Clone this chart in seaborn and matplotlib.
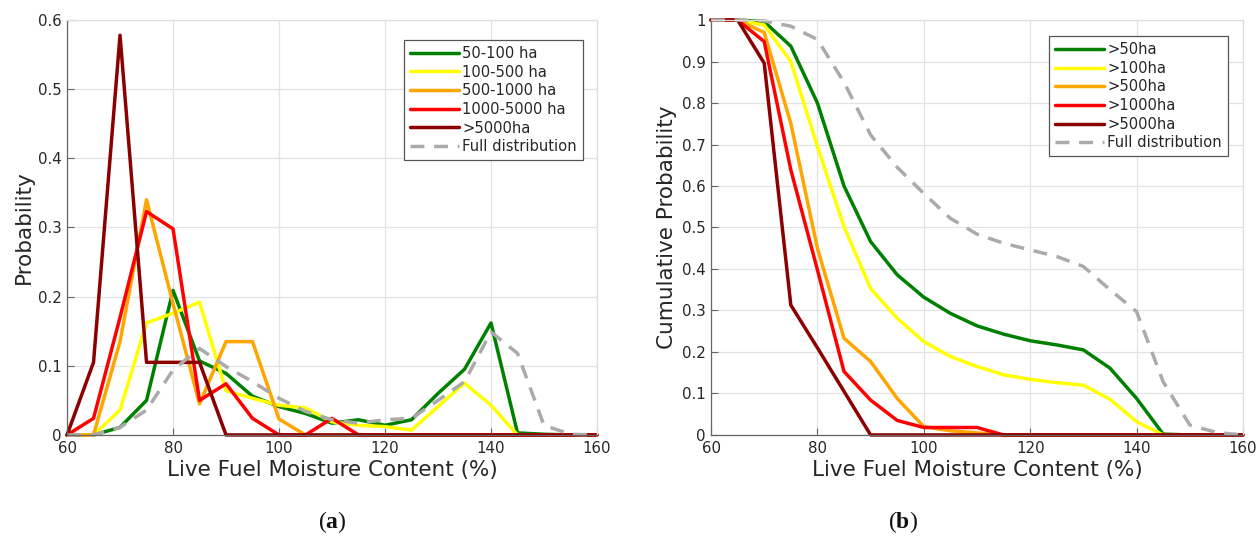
import numpy as np
import pandas as pd
import matplotlib
matplotlib.use("Agg")
import matplotlib.pyplot as plt
import seaborn as sns
from matplotlib.ticker import FuncFormatter

# Live fuel moisture content bins (%)
lfmc = [60, 65, 70, 75, 80, 85, 90, 95, 100, 105, 110, 115, 120, 125, 130,
        135, 140, 145, 150, 155, 160]

# (a) probability by burned-area class
p_50_100 = [0, 0, 0.011, 0.05, 0.209, 0.107, 0.089, 0.056, 0.041, 0.031, 0.017,
            0.022, 0.014, 0.022, 0.06, 0.095, 0.162, 0.003, 0.001, 0, 0]
p_100_500 = [0, 0, 0.036, 0.162, 0.176, 0.192, 0.064, 0.053, 0.043, 0.039, 0.019,
             0.014, 0.012, 0.007, 0.041, 0.075, 0.043, 0, 0, 0, 0]
p_500_1000 = [0, 0, 0.135, 0.34, 0.19, 0.045, 0.135, 0.135, 0.023, 0, 0,
              0, 0, 0, 0, 0, 0, 0, 0, 0, 0]
p_1000_5000 = [0, 0.024, 0.17, 0.323, 0.298, 0.05, 0.074, 0.024, 0, 0, 0.024,
               0, 0, 0, 0, 0, 0, 0, 0, 0, 0]
p_5000 = [0, 0.105, 0.578, 0.105, 0.105, 0.105, 0, 0, 0, 0, 0,
          0, 0, 0, 0, 0, 0, 0, 0, 0, 0]
p_full = [0, 0, 0.011, 0.036, 0.094, 0.125, 0.099, 0.077, 0.053, 0.034, 0.022,
          0.017, 0.022, 0.024, 0.05, 0.077, 0.149, 0.118, 0.014, 0.001, 0]

# (b) cumulative probability by minimum burned area
c_50 = [1, 1, 0.996, 0.937, 0.8, 0.6, 0.466, 0.386, 0.332, 0.293, 0.263,
        0.243, 0.227, 0.217, 0.205, 0.161, 0.088, 0.002, 0, 0, 0]
c_100 = [1, 1, 0.988, 0.9, 0.695, 0.502, 0.353, 0.281, 0.225, 0.189, 0.165,
         0.145, 0.134, 0.126, 0.12, 0.086, 0.032, 0, 0, 0, 0]
c_500 = [1, 1, 0.97, 0.751, 0.45, 0.233, 0.177, 0.088, 0.02, 0.01, 0.005,
         0, 0, 0, 0, 0, 0, 0, 0, 0, 0]
c_1000 = [1, 1, 0.948, 0.639, 0.398, 0.153, 0.084, 0.035, 0.018, 0.018, 0.018,
          0, 0, 0, 0, 0, 0, 0, 0, 0, 0]
c_5000 = [1, 1, 0.896, 0.313, 0.21, 0.105, 0, 0, 0, 0, 0,
          0, 0, 0, 0, 0, 0, 0, 0, 0, 0]
c_full = [1, 1, 0.998, 0.985, 0.953, 0.85, 0.723, 0.645, 0.582, 0.522, 0.484,
          0.462, 0.446, 0.43, 0.406, 0.35, 0.297, 0.128, 0.024, 0.006, 0]

labels_a = ["50-100 ha", "100-500 ha", "500-1000 ha", "1000-5000 ha", ">5000ha",
            "Full distribution"]
labels_b = [">50ha", ">100ha", ">500ha", ">1000ha", ">5000ha", "Full distribution"]
colors = ["#008000", "#FFFF00", "#FFA500", "#FF0000", "#8B0000", "#AAAAAA"]

sns.set_style("white")
plt.rcParams["font.family"] = ["DejaVu Sans"]
plt.rcParams["mathtext.fontset"] = "custom"
plt.rcParams["mathtext.rm"] = "Liberation Serif"
plt.rcParams["mathtext.bf"] = "Liberation Serif:bold"

fig = plt.figure(figsize=(12.6, 5.41), dpi=100)
ax_a = fig.add_axes([0.0532, 0.196, 0.4206, 0.767])
ax_b = fig.add_axes([0.5643, 0.196, 0.4222, 0.767])


def draw(ax, series, labels, ymax, ylabel, legend_anchor):
    for vals, lab, col in zip(series, labels, colors):
        dashed = lab == "Full distribution"
        sns.lineplot(x=lfmc, y=vals, ax=ax, color=col, label=lab, lw=2.5,
                     linestyle=(0, (4.0, 2.8)) if dashed else "-",
                     clip_on=False, legend=False)
    ax.set_xlim(60, 160)
    ax.set_ylim(0, ymax)
    ax.set_xticks(np.arange(60, 161, 20))
    ax.set_yticks(np.round(np.arange(0, ymax + 0.001, 0.1), 1))
    ax.yaxis.set_major_formatter(FuncFormatter(lambda v, p: f"{v:g}"))
    ax.grid(True, color="#e3e3e3", lw=0.9)
    ax.set_axisbelow(True)
    for side in ("top", "right"):
        ax.spines[side].set_color("#dedede")
        ax.spines[side].set_linewidth(0.9)
    for side in ("left", "bottom"):
        ax.spines[side].set_color("#666666")
        ax.spines[side].set_linewidth(0.9)
    ax.tick_params(direction="in", length=5, width=0.8, colors="#666666",
                   labelcolor="#262626", labelsize=10.8, top=False, right=False,
                   left=True, bottom=True, pad=4)
    ax.set_xlabel("Live Fuel Moisture Content (%)", fontsize=15.5,
                  color="#262626", labelpad=3)
    ax.set_ylabel(ylabel, fontsize=15.5, color="#262626", labelpad=3)
    handles, labs = ax.get_legend_handles_labels()
    leg = ax.legend(handles, labs, loc="upper right", bbox_to_anchor=legend_anchor,
                    fontsize=10.6, frameon=True, fancybox=False, framealpha=1,
                    edgecolor="#555555", handlelength=3.3, handletextpad=0.25,
                    borderpad=0.4, labelspacing=0.25, borderaxespad=0)
    leg.get_frame().set_linewidth(0.9)


draw(ax_a, [p_50_100, p_100_500, p_500_1000, p_1000_5000, p_5000, p_full],
     labels_a, 0.6, "Probability", (0.9736, 0.952))
draw(ax_b, [c_50, c_100, c_500, c_1000, c_5000, c_full],
     labels_b, 1.0, "Cumulative Probability", (0.9718, 0.961))

fig.text(0.2635, 0.035, r"$\mathrm{(}\mathbf{a}\mathrm{)}$", ha="center",
         va="center", fontsize=17, color="#111111")
fig.text(0.7165, 0.035, r"$\mathrm{(}\mathbf{b}\mathrm{)}$", ha="center",
         va="center", fontsize=17, color="#111111")

fig.savefig("out.png", dpi=100)
